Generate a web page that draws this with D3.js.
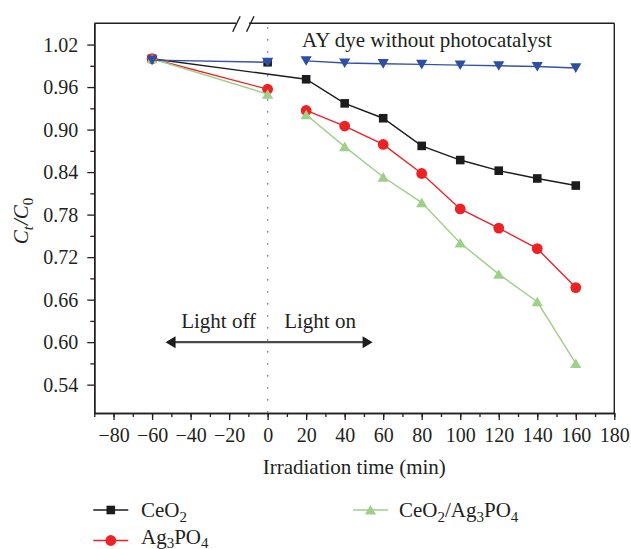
<!DOCTYPE html>
<html>
<head>
<meta charset="utf-8">
<script src="https://cdn.jsdelivr.net/npm/d3@7"></script>
<style>
  html, body { margin: 0; padding: 0; background: #fff; }
  svg { display: block; }
  svg text { font-family: "Liberation Serif", "DejaVu Serif", serif; }
</style>
</head>
<body>
<svg id="chart" width="631" height="549"></svg>
<script>
// ---- data ----
const times = [-60, 0, 20, 40, 60, 80, 100, 120, 140, 160];
const ceo2      = [1.000, 0.995, 0.971, 0.937, 0.916, 0.877, 0.857, 0.842, 0.831, 0.821];
const ag3po4    = [1.000, 0.957, 0.927, 0.905, 0.879, 0.838, 0.788, 0.761, 0.732, 0.677];
const composite = [1.000, 0.950, 0.921, 0.876, 0.833, 0.797, 0.740, 0.696, 0.657, 0.570];
const blank     = [0.998, 0.995, 0.997, 0.994, 0.993, 0.992, 0.991, 0.990, 0.989, 0.987];
const xMajorTicks = [-80, -60, -40, -20, 0, 20, 40, 60, 80, 100, 120, 140, 160, 180];
const yMajorTicks = [0.54, 0.60, 0.66, 0.72, 0.78, 0.84, 0.90, 0.96, 1.02];
const xMinorTicks = d3.range(-90, 181, 10);
const yMinorTicks = [0.57, 0.63, 0.69, 0.75, 0.81, 0.87, 0.93, 0.99];
const xDomain = [-90, 180];
const yDomain = [0.50, 1.05];

const FONT = "'Liberation Serif', 'DejaVu Serif', serif";
const svg = d3.select("#chart");
const L = 94.3, R = 614.3, T = 23.3, B = 413;
const x = d3.scaleLinear().domain(xDomain).range([L, R]);
const y = d3.scaleLinear().domain(yDomain).range([B, T]);
const axisColor = "#231f20";
const ink = "#231f20";

// ---- axes ----
const gx = svg.append("g").attr("transform", `translate(0,${B})`);
gx.call(d3.axisBottom(x).tickValues(xMinorTicks).tickSize(4).tickSizeOuter(0).tickFormat(""));
const gx2 = svg.append("g").attr("transform", `translate(0,${B})`);
gx2.call(d3.axisBottom(x).tickValues(xMajorTicks).tickSize(7).tickSizeOuter(0).tickFormat(d3.format("d")));
gx2.selectAll("text").attr("y", 29).attr("dy", 0);

const gy = svg.append("g").attr("transform", `translate(${L},0)`);
gy.call(d3.axisLeft(y).tickValues(yMinorTicks).tickSize(4).tickSizeOuter(0).tickFormat(""));
const gy2 = svg.append("g").attr("transform", `translate(${L},0)`);
gy2.call(d3.axisLeft(y).tickValues(yMajorTicks).tickSize(7).tickSizeOuter(0).tickFormat(d3.format(".2f")));
gy2.selectAll("text").attr("x", -16).attr("dy", "0.33em");

[gx, gx2, gy, gy2].forEach(g => {
  g.attr("font-family", FONT).attr("font-size", 20);
  g.selectAll("path.domain").attr("stroke", axisColor).attr("stroke-width", 1.4);
  g.selectAll("line").attr("stroke", axisColor).attr("stroke-width", 1.3);
  g.selectAll("text").attr("fill", ink).attr("font-family", FONT).attr("font-size", 20);
});

// frame: right side and broken top side
svg.append("line").attr("x1", R).attr("x2", R).attr("y1", T).attr("y2", B)
  .attr("stroke", axisColor).attr("stroke-width", 1.4);
svg.append("line").attr("x1", L).attr("x2", 236).attr("y1", T).attr("y2", T)
  .attr("stroke", axisColor).attr("stroke-width", 1.4);
svg.append("line").attr("x1", 249).attr("x2", R).attr("y1", T).attr("y2", T)
  .attr("stroke", axisColor).attr("stroke-width", 1.4);
[[232.7, 31.7, 240.2, 16.3], [246.5, 31.7, 254, 16.3]].forEach(s => {
  svg.append("line").attr("x1", s[0]).attr("y1", s[1]).attr("x2", s[2]).attr("y2", s[3])
    .attr("stroke", axisColor).attr("stroke-width", 1.4);
});

// dotted line at t = 0
svg.append("line").attr("x1", x(0)).attr("x2", x(0)).attr("y1", T + 4).attr("y2", B)
  .attr("stroke", "#555").attr("stroke-width", 1.3).attr("stroke-dasharray", "1.3,10.7");

// ---- series ----
const series = [
  { name: "CeO2", values: ceo2, color: "#1c1c1c", line: "#1c1c1c", shape: "square" },
  { name: "Ag3PO4", values: ag3po4, color: "#ec2227", line: "#ec2227", shape: "circle" },
  { name: "CeO2/Ag3PO4", values: composite, color: "#9fcf88", line: "#9fcf88", shape: "up" },
  { name: "blank", values: blank, color: "#2e4ea3", line: "#3552a6", shape: "down" }
];

function markerPath(shape) {
  if (shape === "square") return "M-4.3,-4.3H4.3V4.3H-4.3Z";
  if (shape === "up") return "M0,-5 L5.6,4.6 L-5.6,4.6Z";
  if (shape === "down") return "M0,5 L5.6,-4.6 L-5.6,-4.6Z";
  return null;
}
function drawMarker(g, shape, color, cx, cy) {
  if (shape === "circle") {
    g.append("circle").attr("cx", cx).attr("cy", cy).attr("r", 5.4).attr("fill", color);
  } else {
    g.append("path").attr("d", markerPath(shape)).attr("transform", `translate(${cx},${cy})`).attr("fill", color);
  }
}

const line = d3.line().x(d => x(d[0])).y(d => y(d[1]));
series.forEach(s => {
  const g = svg.append("g");
  const pts = times.map((t, i) => [t, s.values[i]]);
  let segs;
  if (s.name === "CeO2") {
    segs = [pts.filter(p => p[0] !== 0)];
  } else {
    segs = [pts.filter(p => p[0] <= 0), pts.filter(p => p[0] >= 20)];
  }
  segs.forEach(seg => {
    g.append("path").attr("d", line(seg)).attr("fill", "none")
      .attr("stroke", s.line).attr("stroke-width", 1.4);
  });
  pts.forEach(p => drawMarker(g, s.shape, s.color, x(p[0]), y(p[1])));
});

// ---- annotations ----
svg.append("text").attr("x", x(17.8)).attr("y", 46.5).attr("font-size", 21).attr("fill", ink)
  .attr("font-family", FONT).text("AY dye without photocatalyst");

const arrowY = y(0.60);
const ax1 = x(-53), ax2 = x(54.5);
svg.append("line").attr("x1", ax1 + 8).attr("x2", ax2 - 8).attr("y1", arrowY).attr("y2", arrowY)
  .attr("stroke", "#4a4a4a").attr("stroke-width", 2.4);
svg.append("path").attr("d", `M${ax1},${arrowY} L${ax1 + 10},${arrowY - 6} L${ax1 + 10},${arrowY + 6}Z`).attr("fill", "#1c1c1c");
svg.append("path").attr("d", `M${ax2},${arrowY} L${ax2 - 10},${arrowY - 6} L${ax2 - 10},${arrowY + 6}Z`).attr("fill", "#1c1c1c");
svg.append("text").attr("x", x(-6)).attr("y", arrowY - 14).attr("text-anchor", "end")
  .attr("font-size", 21).attr("fill", ink).attr("font-family", FONT).text("Light off");
svg.append("text").attr("x", x(8.6)).attr("y", arrowY - 14).attr("text-anchor", "start")
  .attr("font-size", 21).attr("fill", ink).attr("font-family", FONT).text("Light on");

// axis titles
svg.append("text").attr("x", (L + R) / 2).attr("y", 474).attr("text-anchor", "middle")
  .attr("font-size", 21).attr("fill", ink).attr("font-family", FONT).text("Irradiation time (min)");

const yt = svg.append("text").attr("transform", "translate(28,221) rotate(-90)")
  .attr("text-anchor", "middle").attr("font-size", 21).attr("fill", ink).attr("font-family", FONT);
yt.append("tspan").attr("font-style", "italic").text("C");
yt.append("tspan").attr("font-style", "italic").attr("font-size", 15).attr("dy", 5).text("t");
yt.append("tspan").attr("font-style", "italic").attr("dy", -5).attr("dx", 1).text("/C");
yt.append("tspan").attr("font-size", 15).attr("dy", 5).text("0");

// ---- legend ----
function richLabel(g, parts, tx, ty, drop) {
  const t = g.append("text").attr("x", tx).attr("y", ty).attr("font-size", 21)
    .attr("fill", ink).attr("font-family", FONT);
  let shifted = false;
  parts.forEach(p => {
    const isSub = typeof p === "object";
    const sp = t.append("tspan").text(isSub ? p.sub : p);
    if (isSub && !shifted) { sp.attr("dy", drop).attr("font-size", 15); shifted = true; }
    else if (!isSub && shifted) { sp.attr("dy", -drop); shifted = false; }
    else if (isSub) sp.attr("font-size", 15);
  });
}
const legendItems = [
  { s: series[0], lx: 93.3, ly: 510, tx: 141, ty: 516.7, drop: 5, parts: ["CeO", { sub: "2" }] },
  { s: series[1], lx: 93.3, ly: 540.5, tx: 141, ty: 544, drop: 3.5, parts: ["Ag", { sub: "3" }, "PO", { sub: "4" }] },
  { s: series[2], lx: 353, ly: 510, tx: 399, ty: 516.7, drop: 5, parts: ["CeO", { sub: "2" }, "/Ag", { sub: "3" }, "PO", { sub: "4" }] }
];
legendItems.forEach(it => {
  const g = svg.append("g");
  g.append("line").attr("x1", it.lx).attr("x2", it.lx + 35).attr("y1", it.ly).attr("y2", it.ly)
    .attr("stroke", it.s.line).attr("stroke-width", 1.4);
  drawMarker(g, it.s.shape, it.s.color, it.lx + 17.5, it.ly);
  richLabel(g, it.parts, it.tx, it.ty, it.drop);
});
</script>
</body>
</html>
